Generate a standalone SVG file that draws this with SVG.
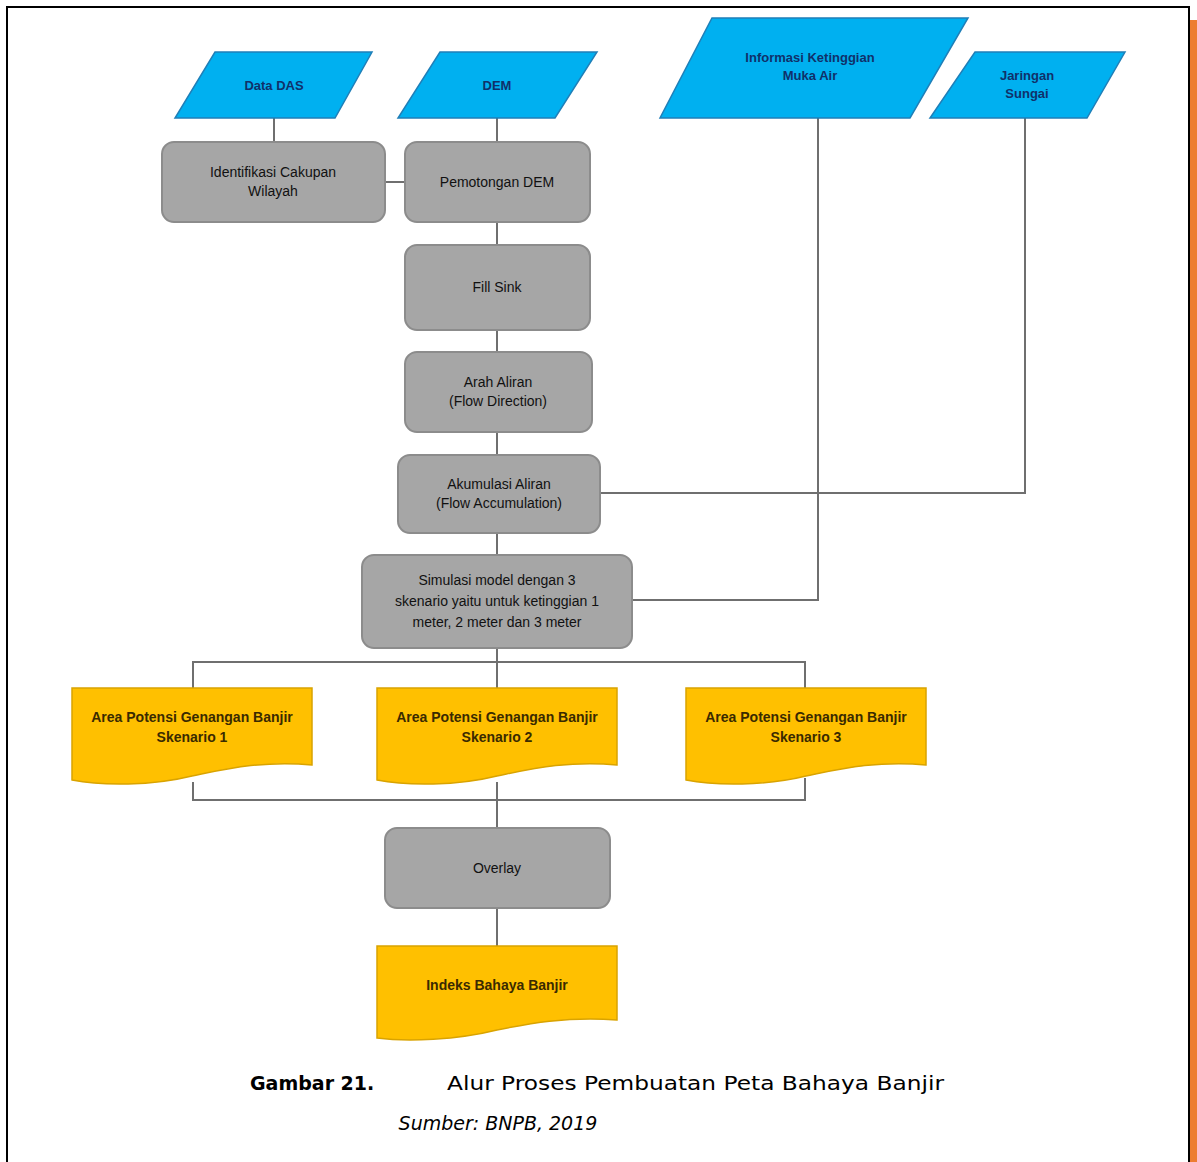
<svg xmlns="http://www.w3.org/2000/svg" width="1197" height="1162" viewBox="0 0 1197 1162">
  <style>
    .frame { stroke: #000; stroke-width: 2; fill: none; }
    .data { fill: #00b0f0; stroke: #1f7fb8; stroke-width: 1.5; }
    .proc { fill: #a6a6a6; stroke: #8c8c8c; stroke-width: 2; }
    .doc { fill: #ffc000; stroke: #d9a300; stroke-width: 1.5; }
    .conn { stroke: #6f6f6f; stroke-width: 2; fill: none; }
    .t { font-family: "Liberation Sans", Arial, sans-serif; font-size: 14px; text-anchor: middle; }
    .tb { fill: #10306a; font-size: 13px; font-weight: bold; }
    .tg { fill: #111; }
    .ty { fill: #3a2a00; font-weight: bold; }
    .cap { font-family: "DejaVu Sans", Verdana, sans-serif; font-size: 19px; fill: #000; }
  </style>

  <rect width="1197" height="1162" fill="#fff"/>

  <!-- page frame and side bar -->
  <path class="frame" d="M7,1162 V7 H1189 V1162"/>
  <rect x="1190" y="20" width="7" height="1142" fill="#ed7d31"/>

  <!-- connectors -->
  <g id="connectors">
    <line class="conn" x1="274" y1="118" x2="274" y2="142"/>
    <line class="conn" x1="497" y1="118" x2="497" y2="142"/>
    <line class="conn" x1="385" y1="182" x2="405" y2="182"/>
    <line class="conn" x1="497" y1="222" x2="497" y2="245"/>
    <line class="conn" x1="497" y1="330" x2="497" y2="352"/>
    <line class="conn" x1="497" y1="432" x2="497" y2="455"/>
    <line class="conn" x1="497" y1="533" x2="497" y2="555"/>
    <polyline class="conn" points="1025,118 1025,493 600,493"/>
    <polyline class="conn" points="818,118 818,600 632,600"/>
    <line class="conn" x1="497" y1="648" x2="497" y2="688"/>
    <polyline class="conn" points="193,688 193,662 805,662 805,688"/>
    <polyline class="conn" points="193,782 193,800 805,800 805,778"/>
    <line class="conn" x1="497" y1="782" x2="497" y2="828"/>
    <line class="conn" x1="497" y1="908" x2="497" y2="948"/>
  </g>

  <!-- input data -->
  <g id="data-das">
    <polygon class="data" points="215,52 372,52 335,118 175,118"/>
    <text class="t tb" x="274" y="90">Data DAS</text>
  </g>
  <g id="data-dem">
    <polygon class="data" points="440,52 597,52 555,118 398,118"/>
    <text class="t tb" x="497" y="90">DEM</text>
  </g>
  <g id="data-muka-air">
    <polygon class="data" points="712,18 968,18 910,118 660,118"/>
    <text class="t tb" x="810" y="62">Informasi Ketinggian</text>
    <text class="t tb" x="810" y="80">Muka Air</text>
  </g>
  <g id="data-sungai">
    <polygon class="data" points="975,52 1125,52 1087,118 930,118"/>
    <text class="t tb" x="1027" y="80">Jaringan</text>
    <text class="t tb" x="1027" y="98">Sungai</text>
  </g>

  <!-- processing steps -->
  <g id="proc-identifikasi">
    <rect class="proc" x="162" y="142" width="223" height="80" rx="12"/>
    <text class="t tg" x="273" y="177">Identifikasi Cakupan</text>
    <text class="t tg" x="273" y="196">Wilayah</text>
  </g>
  <g id="proc-pemotongan">
    <rect class="proc" x="405" y="142" width="185" height="80" rx="12"/>
    <text class="t tg" x="497" y="187">Pemotongan DEM</text>
  </g>
  <g id="proc-fill">
    <rect class="proc" x="405" y="245" width="185" height="85" rx="12"/>
    <text class="t tg" x="497" y="292">Fill Sink</text>
  </g>
  <g id="proc-arah">
    <rect class="proc" x="405" y="352" width="187" height="80" rx="12"/>
    <text class="t tg" x="498" y="387">Arah Aliran</text>
    <text class="t tg" x="498" y="406">(Flow Direction)</text>
  </g>
  <g id="proc-akumulasi">
    <rect class="proc" x="398" y="455" width="202" height="78" rx="12"/>
    <text class="t tg" x="499" y="489">Akumulasi Aliran</text>
    <text class="t tg" x="499" y="508">(Flow Accumulation)</text>
  </g>
  <g id="proc-simulasi">
    <rect class="proc" x="362" y="555" width="270" height="93" rx="12"/>
    <text class="t tg" x="497" y="585">Simulasi model dengan 3</text>
    <text class="t tg" x="497" y="606">skenario yaitu untuk ketinggian 1</text>
    <text class="t tg" x="497" y="627">meter, 2 meter dan 3 meter</text>
  </g>

  <!-- scenario outputs -->
  <g id="doc-skenario-1">
    <path class="doc" d="M72,688 H312 V765 C262,760 222,770 192,776 C152,786 102,786 72,780 Z"/>
    <text class="t ty" x="192" y="722">Area Potensi Genangan Banjir</text>
    <text class="t ty" x="192" y="742">Skenario 1</text>
  </g>
  <g id="doc-skenario-2">
    <path class="doc" d="M377,688 H617 V765 C567,760 527,770 497,776 C457,786 407,786 377,780 Z"/>
    <text class="t ty" x="497" y="722">Area Potensi Genangan Banjir</text>
    <text class="t ty" x="497" y="742">Skenario 2</text>
  </g>
  <g id="doc-skenario-3">
    <path class="doc" d="M686,688 H926 V765 C876,760 836,770 806,776 C766,786 716,786 686,780 Z"/>
    <text class="t ty" x="806" y="722">Area Potensi Genangan Banjir</text>
    <text class="t ty" x="806" y="742">Skenario 3</text>
  </g>

  <g id="proc-overlay">
    <rect class="proc" x="385" y="828" width="225" height="80" rx="12"/>
    <text class="t tg" x="497" y="873">Overlay</text>
  </g>

  <g id="doc-indeks">
    <path class="doc" d="M377,946 H617 V1020 C567,1016 527,1024 497,1030 C457,1040 407,1042 377,1038 Z"/>
    <text class="t ty" x="497" y="990">Indeks Bahaya Banjir</text>
  </g>

  <!-- caption -->
  <text class="cap" x="250" y="1090" font-weight="bold">Gambar 21.</text>
  <text class="cap" x="447" y="1090" textLength="497" lengthAdjust="spacingAndGlyphs">Alur Proses Pembuatan Peta Bahaya Banjir</text>
  <text class="cap" x="498" y="1130" text-anchor="middle" font-style="italic">Sumber: BNPB, 2019</text>
</svg>
